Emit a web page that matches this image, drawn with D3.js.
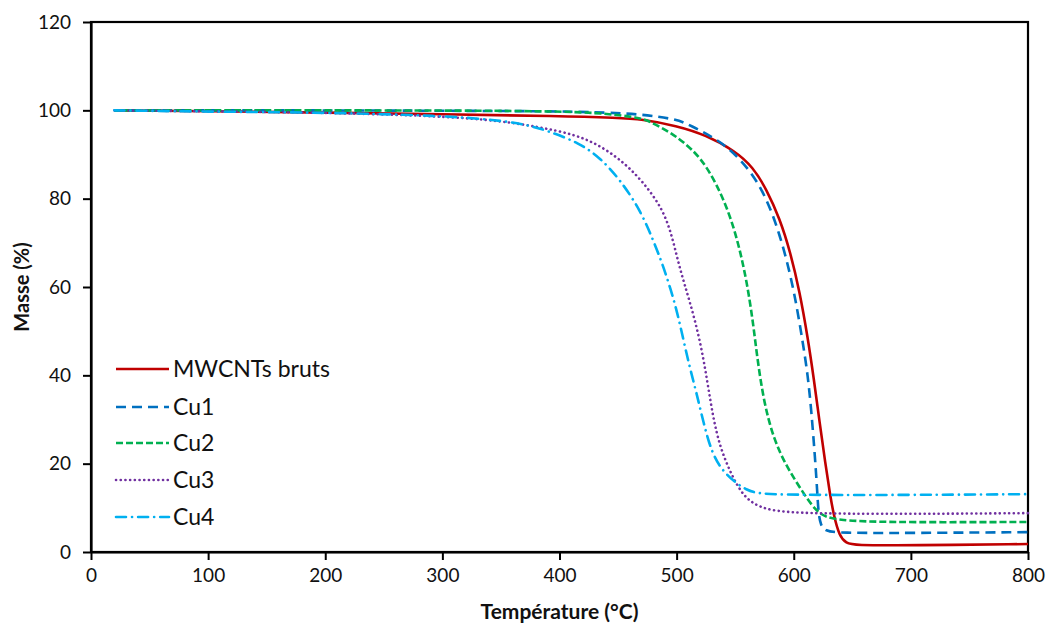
<!DOCTYPE html>
<html><head><meta charset="utf-8">
<script src="https://cdn.jsdelivr.net/npm/d3@7"></script>
<style>body{margin:0;background:#fff}svg{display:block}</style>
</head><body><svg id="c" width="1047" height="630"></svg>
<script>
const xTicks = [0,100,200,300,400,500,600,700,800];
const yTicks = [0,20,40,60,80,100,120];
const seriesNames = ["MWCNTs bruts","Cu1","Cu2","Cu3","Cu4"];
const seriesColors = ["#C00000","#0070C0","#00B050","#7030A0","#00B0F0"];
const seriesDash = ["", "10,6", "7,3", "0.1,4.6", "10,6,0.1,6"];

const mwcntsT = [20,100,200,300,400,450,470,500,525,550,565,577,588,597,605,612,617,622,627,631,634,639,645,651,700,800];
const mwcntsM = [100,99.8,99.5,99.1,98.7,98.3,98.0,96.5,94.4,90.8,87.2,82,75.5,68,59,48.5,39.5,29.5,20,13,8.5,3.5,2,1.5,1.5,1.8];
const cu1T = [20,200,300,400,440,470,500,510,540,563,577,588,597,603,608,612,615,618,620,621,623,627,637,700,800];
const cu1M = [100,100,99.9,99.8,99.5,99.1,98,96.8,92.8,86.5,80,72,63,55,47,40,32,22,14,9,6,4.8,4.3,4.3,4.5];
const cu2T = [20,300,400,440,469,477,494,505,520,534,546,554,560,565,568,574,583,594,608,620,634,700,800];
const cu2M = [100,100,99.8,99.3,98.3,97.5,95.1,93,89.5,83.5,76,68.5,61,52.5,45.7,34.4,25.4,19.3,13.4,8.8,7,6.7,6.8];
const cu3T = [20,100,200,300,350,383,412,432,452,471,489,497,503,511,520,526,531,537,546,557,571,594,700,800];
const cu3M = [100,99.8,99.5,98.7,97.6,96.2,94.6,92.4,88.9,84.0,77.4,70.6,63.8,57,48,39,30.6,23.8,17.9,12.5,10,8.7,8.6,8.8];
const cu4T = [20,100,200,300,346,369,389,417,435,452,469,480,489,499,505,511,517,523,530,540,560,577,700,800];
const cu4M = [100,99.7,99.5,98.8,97.8,96.9,95.5,92.6,89.2,84.2,77.4,70.6,64.5,56,49,42,36,29.2,22.4,17.9,13.6,12.9,12.9,13.1];

const seriesT = [mwcntsT,cu1T,cu2T,cu3T,cu4T];
const seriesM = [mwcntsM,cu1M,cu2M,cu3M,cu4M];

const svg = d3.select("#c");
const L=91,R=1028,T=22,B=552;
const x = d3.scaleLinear().domain([0,800]).range([L,R]);
const y = d3.scaleLinear().domain([0,120]).range([B,T]);
const font = "Lato, 'Open Sans', sans-serif";

svg.append("rect").attr("x",L).attr("y",T).attr("width",R-L).attr("height",B-T)
  .attr("fill","none").attr("stroke","#000").attr("stroke-width",2.2);

const xa = svg.append("g").attr("transform",`translate(0,${B})`)
  .call(d3.axisBottom(x).tickValues(xTicks).tickSize(8).tickPadding(9).tickSizeOuter(0));
const ya = svg.append("g").attr("transform",`translate(${L},0)`)
  .call(d3.axisLeft(y).tickValues(yTicks).tickSize(8).tickPadding(12).tickSizeOuter(0));
[xa,ya].forEach(a=>{
  a.select(".domain").attr("stroke","#000").attr("stroke-width",2.2);
  a.selectAll(".tick line").attr("stroke","#000").attr("stroke-width",2);
  a.selectAll("text").attr("font-family",font).attr("font-size",19).attr("fill","#111");
});

const line = d3.line().x(d=>x(d[0])).y(d=>y(d[1])).curve(d3.curveBasis);
seriesNames.forEach((n,i)=>{
  const pts = seriesT[i].map((t,j)=>[t,seriesM[i][j]]);
  svg.append("path").datum(pts).attr("d",line).attr("fill","none")
    .attr("stroke",seriesColors[i]).attr("stroke-width",2.6)
    .attr("stroke-dasharray",seriesDash[i]||null)
    .attr("stroke-linecap", (i===3||i===4) ? "round" : "butt");
});

const ly = [369,407,443,480,517];
seriesNames.forEach((n,i)=>{
  svg.append("line").attr("x1",116).attr("x2",169).attr("y1",ly[i]).attr("y2",ly[i])
    .attr("stroke",seriesColors[i]).attr("stroke-width",2.6)
    .attr("stroke-dasharray",seriesDash[i]||null)
    .attr("stroke-linecap", (i===3||i===4) ? "round" : "butt");
  svg.append("text").attr("x",173).attr("y",ly[i]).attr("dy","0.36em")
    .attr("font-family",font).attr("font-size",23).attr("fill","#111").text(n);
});

svg.append("text").attr("x",(L+R)/2).attr("y",619).attr("text-anchor","middle")
  .attr("font-family",font).attr("font-weight","bold").attr("font-size",21).attr("fill","#111")
  .text("Température (°C)");
svg.append("text").attr("transform",`translate(29,${(T+B)/2}) rotate(-90)`).attr("text-anchor","middle")
  .attr("font-family",font).attr("font-weight","bold").attr("font-size",20).attr("fill","#111")
  .text("Masse (%)");
</script></body></html>
